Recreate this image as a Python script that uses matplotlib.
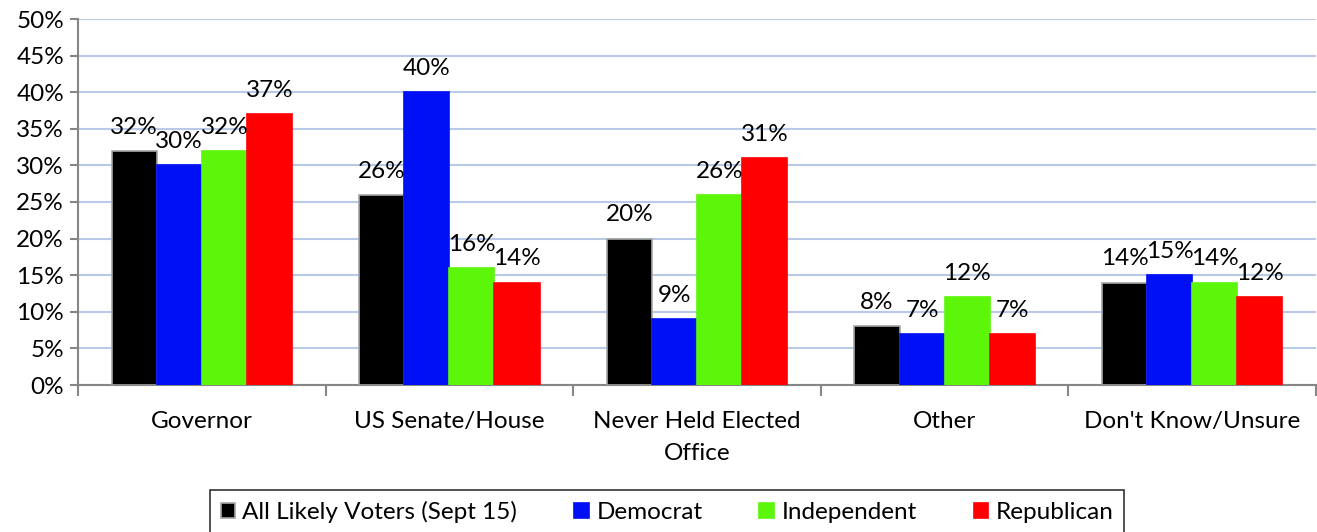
import matplotlib
matplotlib.use("Agg")
import matplotlib.pyplot as plt
import numpy as np

categories = ["Governor", "US Senate/House", "Never Held Elected\nOffice", "Other", "Don't Know/Unsure"]
series_names = ["All Likely Voters (Sept 15)", "Democrat", "Independent", "Republican"]
all_likely = [32, 26, 20, 8, 14]
democrat = [30, 40, 9, 7, 15]
independent = [32, 16, 26, 12, 14]
republican = [37, 14, 31, 7, 12]
y_ticks = [0, 5, 10, 15, 20, 25, 30, 35, 40, 45, 50]

values = [all_likely, democrat, independent, republican]
colors = ["#000000", "#0010F5", "#5CF60A", "#FF0000"]
edges = ["#A6A6A6", "#0010F5", "#5CF60A", "#FF0000"]

plt.rcParams['font.family'] = ['Lato', 'DejaVu Sans']
FS = 17.5

fig = plt.figure(figsize=(13.17, 5.32), dpi=100)
ax = fig.add_axes([78/1317, 1-385/532, (1316-78)/1317, (385-19)/532])

x = np.arange(len(categories))
bw = 0.182
offsets = [-1.5, -0.5, 0.5, 1.5]
for vals, name, c, e, off in zip(values, series_names, colors, edges, offsets):
    ax.bar(x + off*bw, vals, bw, color=c, edgecolor=e, linewidth=1.2, label=name, zorder=3)
    for xi, v in zip(x, vals):
        ax.text(xi + off*bw, v + 1.8, f"{v}%", ha='center', va='bottom', fontsize=FS, color='black', zorder=4)

ax.set_xlim(-0.5, len(categories)-0.5)
ax.set_ylim(0, 50)
ax.set_yticks(y_ticks)
ax.set_yticklabels([f"{t}%" for t in y_ticks], fontsize=FS)
ax.yaxis.grid(True, color="#B9CAE8", linewidth=1.5, zorder=0)
ax.set_axisbelow(True)

ax.set_xticks(x)
ax.set_xticklabels(categories, fontsize=FS, linespacing=1.6)
ax.tick_params(axis='x', length=0, pad=19)
ax.set_xticks(np.arange(-0.5, len(categories), 1), minor=True)
ax.tick_params(axis='x', which='minor', length=8, color="#868686", width=1.5)
ax.tick_params(axis='y', length=6, color="#868686", width=1.5, pad=4)

for s in ['top', 'right']:
    ax.spines[s].set_visible(False)
for s in ['left', 'bottom']:
    ax.spines[s].set_color("#868686")
    ax.spines[s].set_linewidth(1.5)

leg = fig.legend(loc='center', bbox_to_anchor=(667/1317, 1-512/532), ncol=4, fontsize=FS,
                 frameon=True, fancybox=False, edgecolor='black', handlelength=0.6, handleheight=0.6,
                 handletextpad=0.3, columnspacing=2.35, borderpad=0.45)
leg.get_frame().set_linewidth(1.2)

fig.savefig("out.png", dpi=100)
